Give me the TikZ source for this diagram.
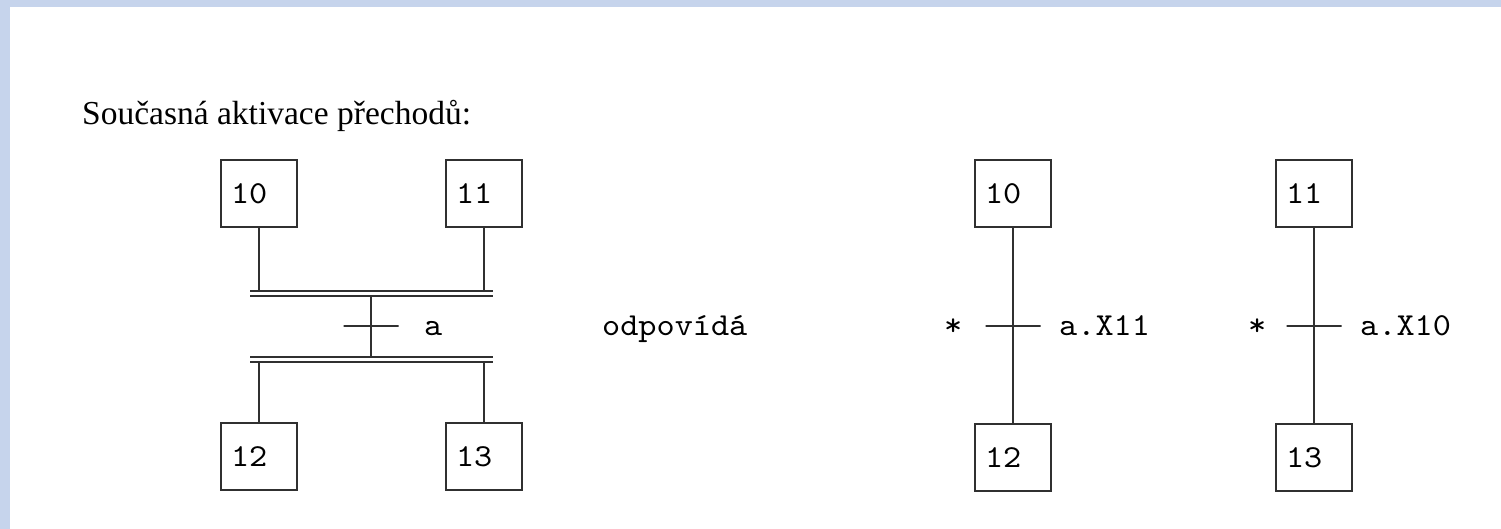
\documentclass[tikz,border=0pt]{standalone}
\usepackage{fontspec}
\setmainfont{Liberation Serif}
\setmonofont[FakeStretch = 1.08]{lmmono10-regular.otf}
\usetikzlibrary{calc}
\definecolor{frame}{HTML}{C6D4EC}
\definecolor{ink}{HTML}{303030}
\tikzset{
  stepbox/.style = {draw = ink, line width = 1.6pt, minimum width = 76pt,
    minimum height = 67pt, inner sep = 0pt, text width = 56pt, align = left,
    font = \fontsize{32}{36}\selectfont\ttfamily},
  tick/.style = {draw = ink, line width = 1.6pt, minimum width = 55pt,
    minimum height = 0pt, inner sep = 0pt},
  cond/.style = {anchor = base west, inner sep = 0pt,
    font = \fontsize{32}{36}\selectfont\ttfamily},
  link/.style = {draw = ink, line width = 1.6pt},
  syncbar/.style = {draw = ink, line width = 1.5pt, double = white,
    double distance = 3.5pt}
}
\begin{document}
\begin{tikzpicture}
      [x = 1pt, y = -1pt]
      \fill[white] (0,0) rectangle (1501,529);
      \fill[frame] (0,0) rectangle (1501,7);
      \fill[frame] (0,0) rectangle (10,529);
      \node[anchor = base west, inner sep = 0pt, font = \fontsize{33.5}{40}\selectfont]
        (title) at (82,125) {Současná aktivace přechodů:};
      % simultaneous transition
      \foreach \n/\x/\y in {10/259/193.5, 11/484/193.5, 12/259/456.5, 13/484/456.5}
        \node[stepbox] (s\n) at (\x,\y) {\n};
      \coordinate (up) at (371,293.5);
      \coordinate (dn) at (371,359.5);
      \foreach \n in {10,11}
        \draw[link] (s\n) -- (s\n |- up);
      \foreach \n in {12,13}
        \draw[link] (s\n) -- (s\n |- dn);
      \draw[link] (up) -- (dn);
      \draw[syncbar] ($(up)+(-121,0)$) -- ($(up)+(122,0)$);
      \draw[syncbar] ($(dn)+(-121,0)$) -- ($(dn)+(122,0)$);
      \node[tick] (t1) at (371,326) {};
      \node[cond] (c1) at (424,335) {a};
      \node[cond] (eq) at (602,335) {odpovídá};
      % split transitions
      \foreach \n/\m/\x in {10/12/1013, 11/13/1314}
      {
        \node[stepbox] (r\n) at (\x,193.5) {\n};
        \node[stepbox] (r\m) at (\x,457.5) {\m};
        \draw[link] (r\n) -- (r\m);
        \node[tick] (t\n) at (\x,326) {};
      }
      \node[cond] (p10) at (944,335) {*};
      \node[cond] (c10) at (1059,335) {a.X11};
      \node[cond] (p11) at (1248,335) {*};
      \node[cond] (c11) at (1360,335) {a.X10};
    \end{tikzpicture}
\end{document}
